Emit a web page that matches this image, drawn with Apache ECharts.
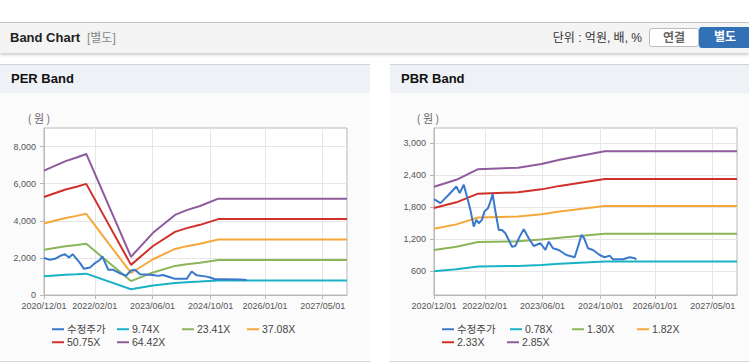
<!DOCTYPE html>
<html>
<head>
<meta charset="utf-8">
<script src="https://cdn.jsdelivr.net/npm/echarts@6/dist/echarts.min.js"></script>
<style>
html,body{margin:0;padding:0;width:749px;height:364px;overflow:hidden;background:#fff;font-family:'Liberation Sans','Noto Sans CJK KR',sans-serif;}
#hdr{position:absolute;left:0;top:22px;width:749px;height:30px;background:#f4f4f4;border-top:1px solid #c3c3c3;box-shadow:0 2px 3px rgba(0,0,0,0.2);}
#hdr .t{position:absolute;left:10px;top:7px;font-size:13px;font-weight:bold;color:#222;line-height:16px;}
#hdr .s{position:absolute;left:87px;top:8px;font-size:12px;color:#888;line-height:15px;}
#hdr .u{position:absolute;right:107px;top:8px;font-size:12px;color:#333;line-height:15px;}
.btn{position:absolute;top:5px;height:19px;line-height:19px;text-align:center;font-size:12px;font-weight:bold;box-sizing:border-box;}
#b1{left:649px;width:50px;border:1px solid #bdbdbd;border-radius:3px;background:#fff;color:#666;}
#b2{left:699px;width:52px;height:21px;top:4px;line-height:21px;background:#3271b6;color:#fff;border-radius:3px 0 0 3px;}
.panel{position:absolute;top:64px;height:296px;background:#fbfbfb;border-top:1px solid #d3d3d3;border-bottom:1px solid #d6d6d6;}
.panel .tb{height:28px;background:#eef1f6;font-size:13px;font-weight:bold;color:#111;line-height:28px;padding-left:11px;}
#chart{position:absolute;left:0;top:0;width:749px;height:364px;}
</style>
</head>
<body>
<div id="hdr"><span class="t">Band Chart</span><span class="s">[별도]</span><span class="u">단위 : 억원, 배, %</span><div class="btn" id="b1">연결</div><div class="btn" id="b2">별도</div></div>
<div class="panel" style="left:0;width:370px;"><div class="tb">PER Band</div></div>
<div class="panel" style="left:390px;width:359px;"><div class="tb">PBR Band</div></div>
<div id="chart"></div>
<script>
// ---------- data ----------
const xStart = '2020/12/01';
const xEnd = '2027/11/21';
const xTickLabels = ['2020/12/01','2022/02/01','2023/06/01','2024/10/01','2026/01/01','2027/05/01'];

const perYTicks = [0, 2000, 4000, 6000, 8000];
const pbrYTicks = [600, 1200, 1800, 2400, 3000];

const perNames = ['수정주가','9.74X','23.41X','37.08X','50.75X','64.42X'];
const pbrNames = ['수정주가','0.78X','1.30X','1.82X','2.33X','2.85X'];

const perBandDates = ['2020/12/01','2021/03/01','2021/06/01','2021/09/01','2021/11/21','2022/12/02','2023/06/05','2023/12/07','2024/03/14','2024/07/04','2024/12/05','2027/11/21'];
const per974  = [1013,1052,1091,1120,1149,312,506,653,692,726,785,785];
const per2341 = [2435,2528,2622,2692,2762,749,1217,1568,1662,1744,1887,1887];
const per3708 = [3856,4005,4153,4264,4375,1187,1928,2484,2633,2762,2989,2989];
const per5075 = [5278,5481,5684,5836,5989,1624,2639,3400,3603,3781,4090,4090];
const per6442 = [6700,6957,7215,7408,7602,2061,3350,4316,4574,4799,5192,5192];

const perPriceDates = ['2020/12/01','2021/01/20','2021/03/03','2021/04/14','2021/05/26','2021/06/29','2021/07/30','2021/09/30','2021/11/02','2021/12/23','2022/02/03','2022/03/17','2022/04/05','2022/05/25','2022/07/06','2022/09/01','2022/10/21','2022/12/02','2023/01/05','2023/02/16','2023/06/05','2023/07/17','2023/08/28','2023/10/26','2023/12/07','2024/03/14','2024/04/25','2024/06/06','2024/08/29','2024/09/26','2024/11/07','2025/01/16','2025/06/05','2025/07/31'];
const perPrice = [1990,1900,1950,2100,2200,2020,2200,1720,1410,1480,1720,1900,2080,1360,1360,1170,1040,1320,1360,1120,1080,1030,1080,960,870,870,1265,1060,990,940,850,850,830,815];

const pbrBandDates = ['2020/12/01','2021/06/07','2021/12/06','2022/11/07','2023/05/23','2023/10/23','2024/11/04','2027/11/21'];
const pbr078 = [597,632,686,694,713,735,778,778];
const pbr130 = [995,1053,1144,1157,1188,1225,1297,1297];
const pbr182 = [1392,1474,1602,1620,1663,1714,1816,1816];
const pbr233 = [1782,1887,2050,2074,2130,2195,2325,2325];
const pbr285 = [2180,2309,2508,2537,2605,2685,2844,2844];

const pbrPriceDates = ['2020/12/01','2021/01/24','2021/04/04','2021/06/07','2021/07/05','2021/08/08','2021/09/04','2021/10/03','2021/10/31','2021/11/22','2021/12/12','2022/01/08','2022/01/29','2022/02/28','2022/03/20','2022/04/08','2022/05/01','2022/05/29','2022/06/25','2022/07/24','2022/08/21','2022/09/17','2022/10/16','2022/11/21','2022/12/25','2023/02/05','2023/03/19','2023/05/14','2023/06/25','2023/07/23','2023/08/28','2023/10/15','2023/11/26','2023/12/19','2024/02/26','2024/03/25','2024/04/23','2024/05/15','2024/06/17','2024/07/29','2024/09/23','2024/11/04','2024/12/16','2025/01/13','2025/04/07','2025/06/03','2025/07/15','2025/07/29'];
const pbrPrice = [1947,1872,2028,2184,2060,2216,1996,1746,1432,1558,1496,1558,1714,1778,1902,2041,1714,1370,1370,1308,1182,1056,1070,1244,1383,1214,1069,1120,994,1150,1026,994,932,900,857,1056,1276,1214,1026,994,900,857,888,819,819,857,838,819];

const colors = ['#3a78cc','#19b2c6','#8cb55a','#f5a83a','#d0302b','#8e5b9c'];

// ---------- helpers ----------
const FONT = "'Liberation Sans','Noto Sans CJK KR',sans-serif";
function ts(s){ const p = s.split('/').map(Number); return Date.UTC(p[0], p[1]-1, p[2]); }
function fmt(v){ const d = new Date(v); return d.getUTCFullYear() + '/' + String(d.getUTCMonth()+1).padStart(2,'0') + '/' + String(d.getUTCDate()).padStart(2,'0'); }
function pairs(dates, vals){ return dates.map((d,i)=>[ts(d), vals[i]]); }
const xTicks = xTickLabels.map(ts);

const plots = [
  {left:44, names:perNames, yMin:0, yMax:9000, yTicks:perYTicks, price:pairs(perPriceDates, perPrice),
   bands:[per974,per2341,per3708,per5075,per6442].map(a=>pairs(perBandDates,a)), unitX:39,
   legCols:[[52,117,182,247],[52,117]]},
  {left:434, names:pbrNames, yMin:150, yMax:3280, yTicks:pbrYTicks, price:pairs(pbrPriceDates, pbrPrice),
   bands:[pbr078,pbr130,pbr182,pbr233,pbr285].map(a=>pairs(pbrBandDates,a)), unitX:428,
   legCols:[[442,510,572,637],[442,507]]}
];

const grid=[], xAxis=[], yAxis=[], series=[], legend=[], graphic=[];
plots.forEach((p, gi)=>{
  grid.push({left:p.left, top:128, width:303, height:167, show:true, borderColor:'#b8b8b8', borderWidth:1, backgroundColor:'#fff'});
  xAxis.push({type:'value', gridIndex:gi, min:ts(xStart), max:ts(xEnd),
    axisLine:{show:true, lineStyle:{color:'#b8b8b8'}},
    axisTick:{show:true, customValues:xTicks, length:4, lineStyle:{color:'#b8b8b8'}},
    axisLabel:{customValues:xTicks, formatter:fmt, color:'#555', fontSize:9, margin:6, fontFamily:FONT},
    splitLine:{show:true, lineStyle:{color:'#e6e6e6'}}});
  yAxis.push({type:'value', gridIndex:gi, min:p.yMin, max:p.yMax,
    axisLine:{show:true, lineStyle:{color:'#b8b8b8'}},
    axisTick:{show:true, customValues:p.yTicks, length:4, lineStyle:{color:'#b8b8b8'}},
    axisLabel:{customValues:p.yTicks, color:'#555', fontSize:9, margin:8, fontFamily:FONT},
    splitLine:{show:true, lineStyle:{color:'#e6e6e6'}}});
  p.bands.forEach((b, bi)=>{
    series.push({type:'line', name:p.names[bi+1], xAxisIndex:gi, yAxisIndex:gi, data:b, showSymbol:false, symbol:'none',
      lineStyle:{width:2, color:colors[bi+1]}, itemStyle:{color:colors[bi+1]}, z:2});
  });
  series.push({type:'line', name:p.names[0], xAxisIndex:gi, yAxisIndex:gi, data:p.price, showSymbol:false, symbol:'none',
    lineStyle:{width:2, color:colors[0]}, itemStyle:{color:colors[0]}, z:3});
  p.names.forEach((n, ni)=>{
    const row = ni < 4 ? 0 : 1, col = ni < 4 ? ni : ni-4;
    legend.push({data:[n], left:p.legCols[row][col], top: row===0 ? 324 : 337, padding:0, itemGap:0,
      itemWidth:12, itemHeight:2, icon:'rect', selectedMode:false,
      textStyle:{fontSize:10.5, color:'#444', fontFamily:FONT, padding:[0,0,0,-2]}});
  });
  graphic.push({type:'text', x:p.unitX, y:118, style:{text:'( 원 )', fill:'#666', font:"11px 'Noto Sans CJK KR',sans-serif", textAlign:'center', textVerticalAlign:'middle'}});
});

const chart = echarts.init(document.getElementById('chart'), null, {renderer:'svg'});
chart.setOption({animation:false, backgroundColor:'transparent', grid, xAxis, yAxis, series, legend, graphic});
</script>
</body>
</html>
